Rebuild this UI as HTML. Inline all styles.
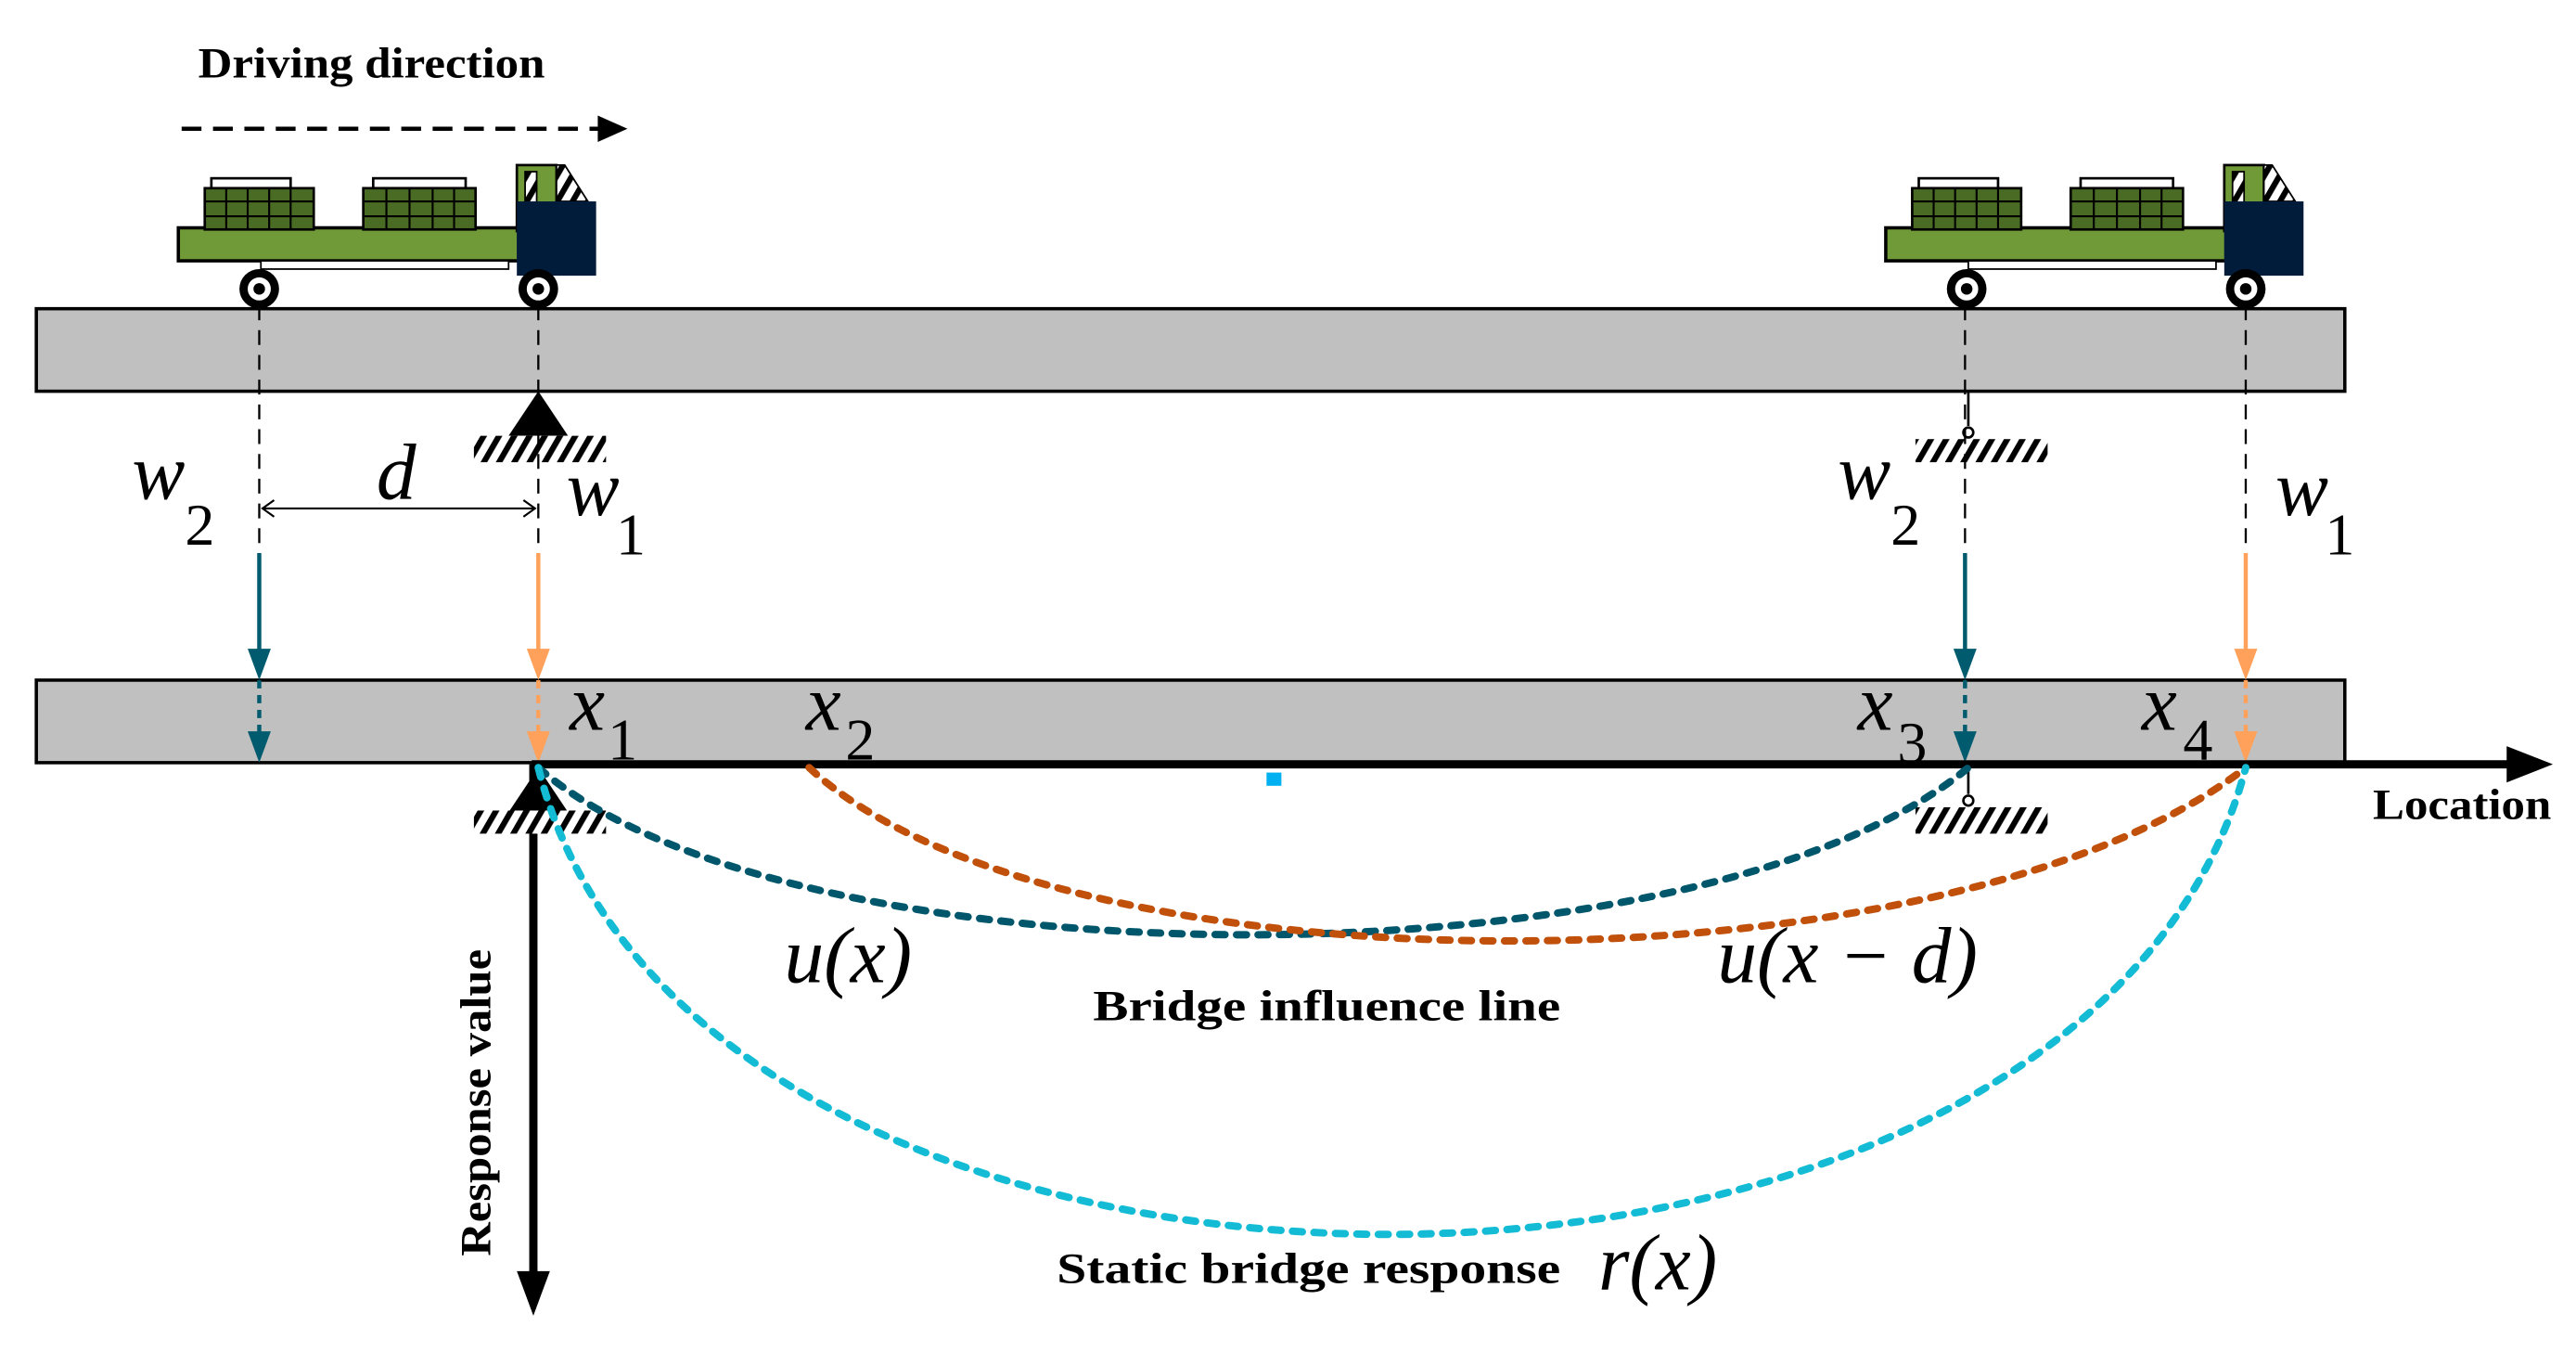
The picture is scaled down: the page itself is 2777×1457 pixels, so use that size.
<!DOCTYPE html>
<html><head><meta charset="utf-8"><style>
html,body{margin:0;padding:0;background:#fff;}
svg{display:block;}
text{font-family:"Liberation Serif",serif;}
.b{font-family:"Liberation Serif",serif;font-weight:bold;font-size:26px;}
.m{font-family:"Liberation Serif",serif;font-style:italic;font-size:48px;}
.s{font-family:"Liberation Serif",serif;font-size:36px;}
</style></head><body>
<svg width="2777" height="1457" viewBox="0 0 1560 819" preserveAspectRatio="none" xmlns="http://www.w3.org/2000/svg">
<defs>
<pattern id="h" width="8" height="8" patternUnits="userSpaceOnUse" patternTransform="rotate(30)">
<rect width="8" height="8" fill="#fff"/><rect width="3.5" height="8" fill="#000"/></pattern>
<g id="truck">
<rect x="0" y="38" width="210" height="20" fill="#6F9A37" stroke="#000" stroke-width="2"/>
<rect x="20" y="8" width="48" height="6" fill="#fff" stroke="#000" stroke-width="1.5"/>
<rect x="16" y="14" width="66" height="25" fill="#4A6B23" stroke="#000" stroke-width="1.5"/>
<path d="M29 14v25M42 14v25M55 14v25M68 14v25M16 22h66M16 31h66" stroke="#000" stroke-width="1.2"/>
<rect x="118" y="8" width="56" height="6" fill="#fff" stroke="#000" stroke-width="1.5"/>
<rect x="112" y="14" width="68" height="25" fill="#4A6B23" stroke="#000" stroke-width="1.5"/>
<path d="M126 14v25M140 14v25M154 14v25M167 14v25M112 22h68M112 31h68" stroke="#000" stroke-width="1.2"/>
<rect x="205" y="0" width="24" height="40" fill="#6F9A37" stroke="#000" stroke-width="1.5"/>
<rect x="210" y="4" width="7" height="25" fill="url(#h)" stroke="#000" stroke-width="1"/>
<path d="M229 0h5l14 22h-19z" fill="url(#h)" stroke="#000" stroke-width="1"/>
<rect x="205" y="22" width="48" height="45" fill="#001C3A"/>
<rect x="205" y="40" width="24" height="18" fill="#001C3A"/>
<rect x="50" y="58" width="150" height="5" fill="#fff" stroke="#000" stroke-width="1"/>
<circle cx="49" cy="75" r="12" fill="#000"/><circle cx="49" cy="75" r="7" fill="#fff"/><circle cx="49" cy="75" r="3.5" fill="#000"/>
<circle cx="218" cy="75" r="12" fill="#000"/><circle cx="218" cy="75" r="7" fill="#fff"/><circle cx="218" cy="75" r="3.5" fill="#000"/>
</g>
</defs>

<text x="120" y="47" class="b" textLength="210" lengthAdjust="spacingAndGlyphs">Driving direction</text>
<line x1="110" y1="78" x2="365" y2="78" stroke="#000" stroke-width="2.5" stroke-dasharray="12 7"/>
<path d="M362 70L380 78L362 86z" fill="#000"/>

<use href="#truck" x="108" y="100"/>
<use href="#truck" x="1142" y="100"/>

<rect x="22" y="187" width="1398" height="50" fill="#C0C0C0" stroke="#000" stroke-width="2"/>
<rect x="22" y="412" width="1398" height="50" fill="#C0C0C0" stroke="#000" stroke-width="2"/>

<path d="M326 237L308 264H344z" fill="#000"/>
<rect x="287" y="264" width="80" height="16" fill="url(#h)"/>
<line x1="1192" y1="237" x2="1192" y2="258" stroke="#000" stroke-width="1.5"/>
<circle cx="1192" cy="262" r="3" fill="#fff" stroke="#000" stroke-width="1.5"/>
<rect x="1160" y="266" width="80" height="14" fill="url(#h)"/>

<g stroke="#000" stroke-width="1.3" stroke-dasharray="9 6" fill="none">
<line x1="157" y1="185" x2="157" y2="335"/>
<line x1="326" y1="185" x2="326" y2="335"/>
<line x1="1190" y1="185" x2="1190" y2="335"/>
<line x1="1360" y1="185" x2="1360" y2="335"/>
</g>
<line x1="160" y1="308" x2="323" y2="308" stroke="#000" stroke-width="1.2"/>
<path d="M166 303L159 308L166 313M317 303L324 308L317 313" stroke="#000" stroke-width="1.2" fill="none"/>

<text x="80" y="302" class="m">w</text><text x="112" y="330" class="s">2</text>
<text x="228" y="302" class="m">d</text>
<text x="343" y="312" class="m">w</text><text x="373" y="336" class="s">1</text>
<text x="1113" y="302" class="m">w</text><text x="1145" y="330" class="s">2</text>
<text x="1378" y="312" class="m">w</text><text x="1408" y="336" class="s">1</text>

<g stroke-width="2.5">
<line x1="157" y1="335" x2="157" y2="400" stroke="#005B6E"/><path d="M150 393L157 412L164 393z" fill="#005B6E"/>
<line x1="157" y1="412" x2="157" y2="450" stroke="#005B6E" stroke-dasharray="5 4"/><path d="M150 443L157 462L164 443z" fill="#005B6E"/>
<line x1="326" y1="335" x2="326" y2="400" stroke="#FFA15A"/><path d="M319 393L326 412L333 393z" fill="#FFA15A"/>
<line x1="326" y1="412" x2="326" y2="450" stroke="#FFA15A" stroke-dasharray="5 4"/><path d="M319 443L326 462L333 443z" fill="#FFA15A"/>
<line x1="1190" y1="335" x2="1190" y2="400" stroke="#005B6E"/><path d="M1183 393L1190 412L1197 393z" fill="#005B6E"/>
<line x1="1190" y1="412" x2="1190" y2="450" stroke="#005B6E" stroke-dasharray="5 4"/><path d="M1183 443L1190 462L1197 443z" fill="#005B6E"/>
<line x1="1360" y1="335" x2="1360" y2="400" stroke="#FFA15A"/><path d="M1353 393L1360 412L1367 393z" fill="#FFA15A"/>
<line x1="1360" y1="412" x2="1360" y2="450" stroke="#FFA15A" stroke-dasharray="5 4"/><path d="M1353 443L1360 462L1367 443z" fill="#FFA15A"/>
</g>

<text x="345" y="442" class="m">x</text><text x="368" y="460" class="s">1</text>
<text x="488" y="442" class="m">x</text><text x="512" y="460" class="s">2</text>
<text x="1125" y="442" class="m">x</text><text x="1149" y="462" class="s">3</text>
<text x="1297" y="442" class="m">x</text><text x="1322" y="460" class="s">4</text>

<line x1="322" y1="463" x2="1522" y2="463" stroke="#000" stroke-width="5"/>
<path d="M1518 452L1546 463L1518 474z" fill="#000"/>
<text x="1437" y="496" class="b" textLength="108" lengthAdjust="spacingAndGlyphs">Location</text>
<line x1="323" y1="463" x2="323" y2="775" stroke="#000" stroke-width="5"/>
<path d="M313 770L323 797L333 770z" fill="#000"/>
<text transform="translate(297,668) rotate(-90)" class="b" text-anchor="middle" textLength="186" lengthAdjust="spacingAndGlyphs">Response value</text>

<path d="M326 465L308 492H344z" fill="#000"/>
<rect x="287" y="491" width="80" height="14" fill="url(#h)"/>
<line x1="1192" y1="465" x2="1192" y2="481" stroke="#000" stroke-width="1.5"/>
<circle cx="1192" cy="485" r="3" fill="#fff" stroke="#000" stroke-width="1.5"/>
<rect x="1160" y="489" width="80" height="16" fill="url(#h)"/>
<rect x="767" y="468" width="9" height="8" fill="#00B0F0"/>

<g fill="none" stroke-width="4.5" stroke-dasharray="6 7" stroke-linecap="round">
<path d="M326 465C480 600 1030 600 1192 465" stroke="#00566A"/>
<path d="M490 465C640 605 1180 605 1360 465" stroke="#C0500A"/>
<path d="M326 465C420 842 1260 842 1360 465" stroke="#13BCD4"/>
</g>

<text x="475" y="595" class="m">u(x)</text>
<text x="662" y="618" class="b" textLength="283" lengthAdjust="spacingAndGlyphs">Bridge influence line</text>
<text x="1040" y="595" class="m">u(x − d)</text>
<text x="640" y="777" class="b" textLength="305" lengthAdjust="spacingAndGlyphs">Static bridge response</text>
<text x="968" y="781" class="m">r(x)</text>
</svg>
</body></html>
